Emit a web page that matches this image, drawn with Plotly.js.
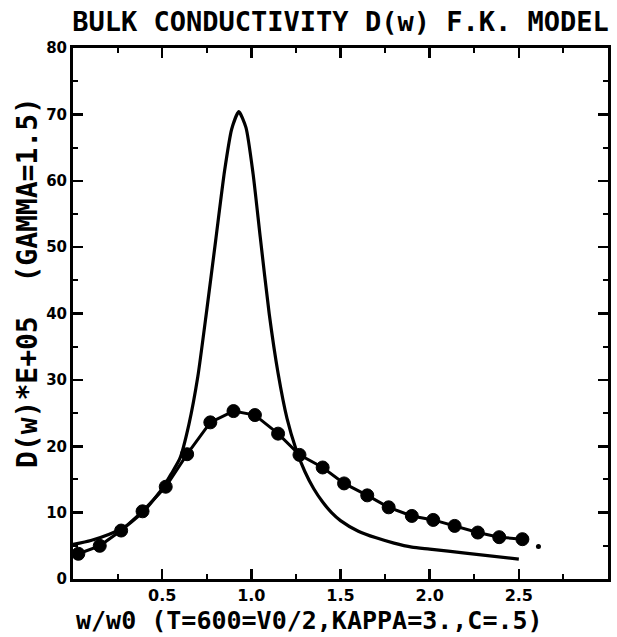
<!DOCTYPE html>
<html>
<head>
<meta charset="utf-8">
<script src="https://cdn.plot.ly/plotly-3.0.1.min.js"></script>
<style>
  html, body { margin: 0; padding: 0; background: #fff; }
  #chart { width: 617px; height: 637px; }
</style>
</head>
<body>
<div id="chart"></div>
<script>
// Sharp (solid) curve
const sharpX = [0.00, 0.10, 0.20, 0.30, 0.40, 0.50, 0.55, 0.60, 0.65, 0.70, 0.75, 0.80, 0.85, 0.89, 0.93, 0.97, 1.01, 1.05, 1.10, 1.15, 1.20, 1.25, 1.30, 1.35, 1.40, 1.45, 1.50, 1.60, 1.70, 1.80, 1.90, 2.00, 2.20, 2.50];
const sharpY = [5.2, 5.8, 6.7, 8.0, 10.3, 13.6, 15.8, 18.2, 23.3, 30.5, 40.5, 51.0, 61.5, 67.8, 70.4, 68.0, 61.0, 51.5, 40.0, 31.0, 24.2, 19.6, 16.2, 13.6, 11.6, 10.0, 8.8, 7.2, 6.2, 5.4, 4.8, 4.5, 3.9, 3.0];

// Broad curve with circle markers
const dotX = [0.03, 0.15, 0.27, 0.39, 0.52, 0.64, 0.77, 0.90, 1.02, 1.15, 1.27, 1.40, 1.52, 1.65, 1.77, 1.90, 2.02, 2.14, 2.27, 2.39, 2.52];
const dotY = [3.8, 5.0, 7.3, 10.2, 13.9, 18.8, 23.6, 25.3, 24.7, 21.9, 18.7, 16.8, 14.4, 12.6, 10.8, 9.5, 8.9, 8.0, 7.0, 6.3, 6.0];

// Stray small point
const strayX = [2.61];
const strayY = [4.9];

// Tick labels
const xTickVals = [0.5, 1.0, 1.5, 2.0, 2.5];
const xTickText = ["0.5", "1.0", "1.5", "2.0", "2.5"];
const yTickVals = [0, 10, 20, 30, 40, 50, 60, 70, 80];
const yTickText = ["0", "10", "20", "30", "40", "50", "60", "70", "80"];

const TITLE = "BULK CONDUCTIVITY D(w) F.K. MODEL";
const XTITLE = "w/w0 (T=600=V0/2,KAPPA=3.,C=.5)";
const YTITLE = "D(w)*E+05\u00a0\u00a0(GAMMA=1.5)";

const MONO = "DejaVu Sans Mono, monospace";

const traces = [
  {
    x: sharpX, y: sharpY, type: "scatter", mode: "lines",
    line: { color: "#000", width: 3.2, shape: "spline", smoothing: 0.6 },
    hoverinfo: "skip", showlegend: false
  },
  {
    x: dotX, y: dotY, type: "scatter", mode: "lines+markers",
    line: { color: "#000", width: 3 },
    marker: { symbol: "circle", size: 13, color: "#000", line: { color: "#000", width: 1 } },
    hoverinfo: "skip", showlegend: false
  },
  {
    x: strayX, y: strayY, type: "scatter", mode: "markers",
    marker: { symbol: "circle", size: 5, color: "#000" },
    hoverinfo: "skip", showlegend: false
  }
];

const layout = {
  width: 617, height: 637,
  margin: { l: 73, r: 9, t: 48, b: 58 },
  paper_bgcolor: "#fff", plot_bgcolor: "#fff",
  showlegend: false,
  title: {
    text: TITLE,
    font: { family: MONO, size: 27, color: "#000", weight: "bold" },
    xref: "paper", x: 0.5, xanchor: "center",
    yref: "container", y: 1 - 22 / 637, yanchor: "middle"
  },
  xaxis: {
    range: [0, 3.0], showgrid: false, zeroline: false,
    showline: true, linecolor: "#000", linewidth: 3, mirror: "ticks",
    ticks: "inside", ticklen: 10, tickwidth: 2.5, tickcolor: "#000",
    tickmode: "array", tickvals: xTickVals, ticktext: xTickText,
    tickfont: { family: "DejaVu Sans, sans-serif", size: 16, color: "#000", weight: "bold" },
    minor: { dtick: 0.25, tick0: 0, ticks: "inside", ticklen: 5, tickwidth: 2, tickcolor: "#000" }
  },
  yaxis: {
    range: [0, 80], showgrid: false, zeroline: false,
    showline: true, linecolor: "#000", linewidth: 3, mirror: "ticks",
    ticks: "inside", ticklen: 10, tickwidth: 2.5, tickcolor: "#000",
    tickmode: "array", tickvals: yTickVals, ticktext: yTickText,
    tickfont: { family: "DejaVu Sans, sans-serif", size: 15, color: "#000", weight: "bold" },
    minor: { dtick: 5, tick0: 0, ticks: "inside", ticklen: 5, tickwidth: 2, tickcolor: "#000" }
  },
  annotations: [
    {
      text: XTITLE, showarrow: false,
      xref: "paper", yref: "paper", x: (309 - 73) / 535, y: -41 / 531,
      xanchor: "center", yanchor: "middle",
      font: { family: MONO, size: 25, color: "#000", weight: "bold" }
    },
    {
      text: YTITLE, showarrow: false, textangle: -90,
      xref: "paper", yref: "paper", x: (27 - 73) / 535, y: (579 - 283) / 531,
      xanchor: "center", yanchor: "middle",
      font: { family: MONO, size: 28, color: "#000", weight: "bold" }
    }
  ]
};

Plotly.newPlot("chart", traces, layout, { staticPlot: true, displayModeBar: false });
</script>
</body>
</html>
